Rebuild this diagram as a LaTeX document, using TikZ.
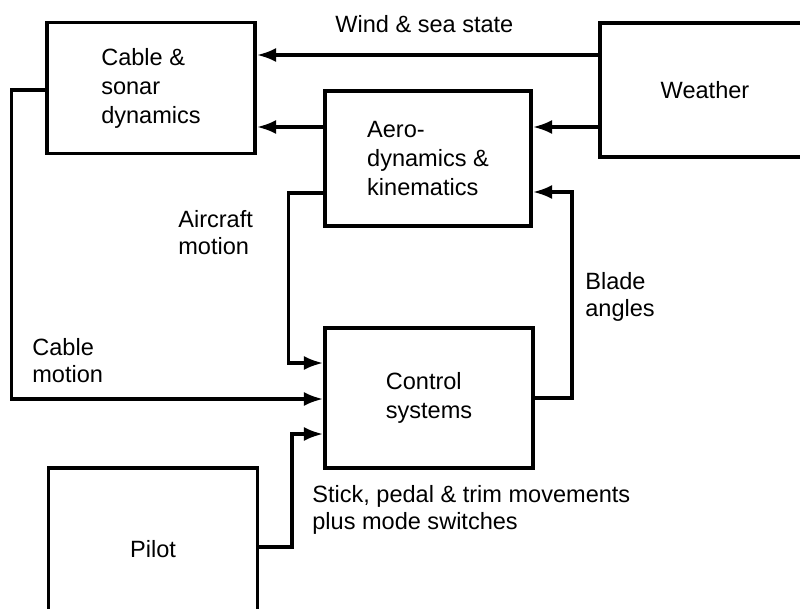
\documentclass[tikz,border=0pt]{standalone}
\usepackage{fontspec}
\setmainfont{Liberation Sans}
\usepackage{tikz}
\usetikzlibrary{arrows.meta, positioning, calc}
\tikzset{
    blk/.style={
        draw, line width=2pt, inner sep=0pt,
        font=\fontsize{13.4}{16.5}\selectfont, align=left,
    },
    arr/.style={
        -{Latex[length=11pt, width=8pt]}, line width=2pt,
    },
    lbl/.style={
        anchor=north west, inner sep=0pt,
        font=\fontsize{13.4}{15.5}\selectfont, align=left,
    },
}

\begin{document}
\begin{tikzpicture}[x=0.02cm, y=-0.02cm]
\useasboundingbox (0,0) rectangle (800,608);

% ═══ BLOCKS ═══
\node[blk, minimum width=4.16cm, minimum height=2.62cm] (cable) at (151,88) {Cable \&\\sonar\\dynamics};
\node[blk, minimum width=4.2cm, minimum height=2.68cm] (weather) at (705,90) {Weather};
\node[blk, minimum width=4.12cm, minimum height=2.7cm] (aero) at (428,158.5) {Aero-\\dynamics \&\\kinematics};
\node[blk, minimum width=4.16cm, minimum height=2.8cm] (ctrl) at (429,398) {Control\\systems};
\node[blk, minimum width=4.18cm, minimum height=3.24cm] (pilot) at (153,549) {Pilot};

% ═══ CONNECTORS ═══
\draw[arr] (weather.west |- 0,55) -- (cable.east |- 0,55);
\draw[arr] (weather.west |- 0,127) -- (aero.east |- 0,127);
\draw[arr] (aero.west |- 0,127) -- (cable.east |- 0,127);

% feedback loops into the control block
\draw[arr] (ctrl.east) -- ++(37,0) |- (aero.east |- 0,192);
\draw[arr] (aero.west |- 0,193) -- ++(-35,0) |- (ctrl.west |- 0,363);
\draw[arr] (cable.west |- 0,90) -- ++(-34,0) |- (ctrl.west |- 0,399);
\draw[arr] (pilot.east |- 0,547) -- ++(33,0) |- (ctrl.west |- 0,434);

% ═══ LABELS ═══
\node[lbl] (windlbl) at (335,15) {Wind \& sea state};
\node[lbl] (acmlbl) at (178,210) {Aircraft\\motion};
\node[lbl] (bladelbl) at (585,272) {Blade\\angles};
\node[lbl] (cmlbl) at (32,338) {Cable\\motion};
\node[lbl] (sticklbl) at (312,485) {Stick, pedal \& trim movements\\plus mode switches};

\end{tikzpicture}
\end{document}
